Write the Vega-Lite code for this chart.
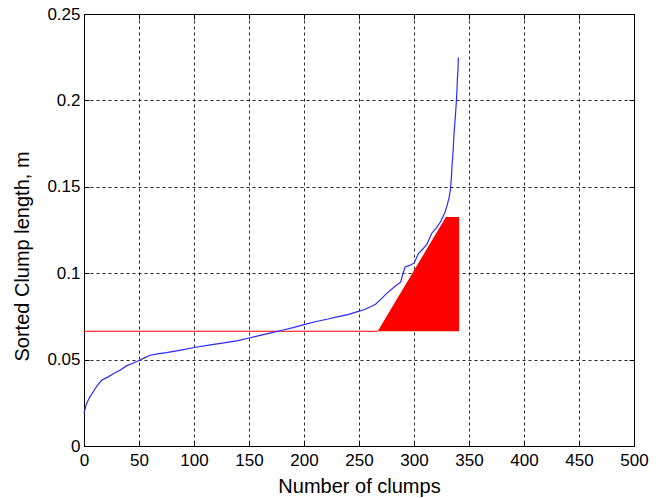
{
  "$schema": "https://vega.github.io/schema/vega-lite/v6.json",
  "width": 550,
  "height": 432,
  "autosize": "none",
  "padding": {"left": 84, "top": 14, "right": 26, "bottom": 52},
  "background": "#ffffff",
  "config": {
    "view": {"stroke": "#000000", "strokeWidth": 1},
    "font": "Liberation Sans",
    "axis": {
      "labelFont": "Liberation Sans",
      "labelFontSize": 17,
      "labelColor": "#000000",
      "titleFont": "Liberation Sans",
      "titleFontSize": 20,
      "titleFontWeight": "normal",
      "titleColor": "#000000",
      "domainColor": "#000000",
      "domainWidth": 1,
      "gridColor": "#000000",
      "gridDash": [3, 3],
      "gridOpacity": 0.85,
      "gridWidth": 1,
      "tickColor": "#000000",
      "tickSize": -5,
      "labelFlush": false,
      "labelOverlap": false
    }
  },
  "datasets": {
    "curve": [
      {"n": 0, "len": 0.019}, {"n": 2, "len": 0.024}, {"n": 5, "len": 0.028}, {"n": 9, "len": 0.032},
      {"n": 12, "len": 0.035}, {"n": 16, "len": 0.038}, {"n": 22, "len": 0.040}, {"n": 27, "len": 0.042},
      {"n": 33, "len": 0.044}, {"n": 39, "len": 0.0465}, {"n": 45, "len": 0.048}, {"n": 50, "len": 0.0495},
      {"n": 55, "len": 0.051}, {"n": 60, "len": 0.0525}, {"n": 68, "len": 0.0535}, {"n": 75, "len": 0.054},
      {"n": 88, "len": 0.0555}, {"n": 100, "len": 0.057}, {"n": 115, "len": 0.0585}, {"n": 130, "len": 0.060},
      {"n": 140, "len": 0.061}, {"n": 150, "len": 0.0625}, {"n": 160, "len": 0.064}, {"n": 170, "len": 0.0655},
      {"n": 180, "len": 0.067}, {"n": 190, "len": 0.0685}, {"n": 200, "len": 0.0702}, {"n": 212, "len": 0.0722},
      {"n": 222, "len": 0.0735}, {"n": 230, "len": 0.0747}, {"n": 240, "len": 0.076}, {"n": 248, "len": 0.0776},
      {"n": 255, "len": 0.079}, {"n": 260, "len": 0.0804}, {"n": 265, "len": 0.082}, {"n": 270, "len": 0.085},
      {"n": 275, "len": 0.0882}, {"n": 282, "len": 0.092}, {"n": 288, "len": 0.0949}, {"n": 290, "len": 0.100},
      {"n": 292, "len": 0.1036}, {"n": 296, "len": 0.1045}, {"n": 300, "len": 0.1058}, {"n": 304, "len": 0.1113},
      {"n": 308, "len": 0.114}, {"n": 312, "len": 0.1171}, {"n": 316, "len": 0.123}, {"n": 320, "len": 0.126},
      {"n": 324, "len": 0.1296}, {"n": 328, "len": 0.135}, {"n": 330, "len": 0.139}, {"n": 332, "len": 0.144},
      {"n": 333, "len": 0.148}, {"n": 334, "len": 0.155}, {"n": 334.5, "len": 0.1615}, {"n": 335.5, "len": 0.17},
      {"n": 336.4, "len": 0.1808}, {"n": 337.5, "len": 0.19}, {"n": 338.2, "len": 0.1962}, {"n": 339, "len": 0.205},
      {"n": 339.4, "len": 0.2116}, {"n": 340, "len": 0.218}, {"n": 340.3, "len": 0.2248}
    ],
    "hline": [{"n": 0, "len": 0.0664}, {"n": 267, "len": 0.0664}],
    "wedge": [
      {"n": 267, "len": 0.0664},
      {"n": 329, "len": 0.1325},
      {"n": 341, "len": 0.1325}
    ]
  },
  "layer": [
    {
      "data": {"name": "wedge"},
      "mark": {"type": "area", "color": "#ff0000", "opacity": 1},
      "encoding": {
        "x": {
          "field": "n", "type": "quantitative",
          "scale": {"domain": [0, 500], "nice": false},
          "axis": {
            "title": "Number of clumps",
            "values": [0, 50, 100, 150, 200, 250, 300, 350, 400, 450, 500],
            "labelPadding": 11,
            "titleBaseline": "alphabetic",
            "titleY": 46
          }
        },
        "y": {
          "field": "len", "type": "quantitative",
          "scale": {"domain": [0, 0.25], "nice": false, "zero": false},
          "axis": {
            "title": "Sorted Clump length, m",
            "values": [0, 0.05, 0.1, 0.15, 0.2, 0.25],
            "format": "~g",
            "labelPadding": 9,
            "titleBaseline": "bottom",
            "titleX": -52,
            "titleY": 242
          }
        },
        "y2": {"datum": 0.0664}
      }
    },
    {
      "data": {"name": "hline"},
      "mark": {"type": "line", "color": "#ff0000", "strokeWidth": 1},
      "encoding": {
        "x": {"field": "n", "type": "quantitative", "axis": null},
        "y": {"field": "len", "type": "quantitative", "axis": null}
      }
    },
    {
      "data": {"name": "curve"},
      "mark": {"type": "line", "color": "#2a2aff", "strokeWidth": 1.2},
      "encoding": {
        "x": {"field": "n", "type": "quantitative", "axis": null},
        "y": {"field": "len", "type": "quantitative", "axis": null}
      }
    },
    {
      "data": {"name": "hline"},
      "mark": {"type": "line", "opacity": 0},
      "encoding": {
        "x": {
          "field": "n", "type": "quantitative",
          "axis": {"orient": "top", "title": null, "labels": false, "grid": false, "domain": false,
                   "values": [0, 50, 100, 150, 200, 250, 300, 350, 400, 450, 500]}
        },
        "y": {
          "field": "len", "type": "quantitative",
          "axis": {"orient": "right", "title": null, "labels": false, "grid": false, "domain": false,
                   "values": [0, 0.05, 0.1, 0.15, 0.2, 0.25]}
        }
      }
    }
  ],
  "resolve": {"axis": {"x": "independent", "y": "independent"}}
}
